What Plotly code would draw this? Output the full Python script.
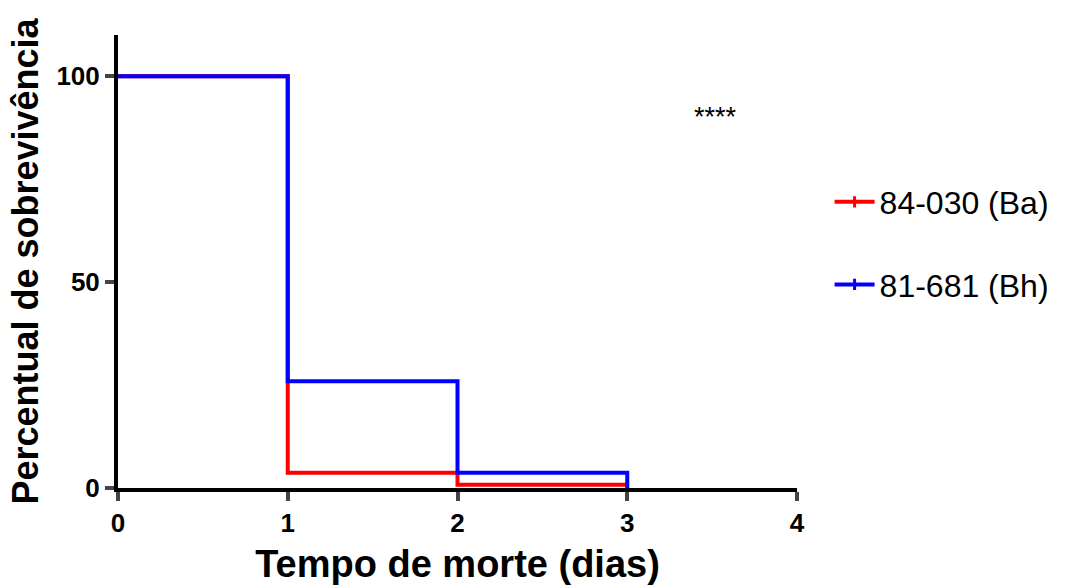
import plotly.graph_objects as go

# Kaplan-Meier survival steps (percent surviving at each day)
days = [0, 1, 2, 3]
surv_ba = [100, 3.7, 0.8, 0.8]
surv_bh = [100, 25.9, 3.7, 0]
series_names = ["84-030 (Ba)", "81-681 (Bh)"]
series_colors = ["#ff0000", "#0000ff"]
x_ticks = [0, 1, 2, 3, 4]
y_ticks = [0, 50, 100]
signif_label = "****"

fig = go.Figure()
for i, (name, ys) in enumerate(zip(series_names, [surv_ba, surv_bh])):
    fig.add_trace(go.Scatter(
        x=days, y=ys, mode="lines", line=dict(color=series_colors[i], width=4, shape="hv"),
        showlegend=False, cliponaxis=False, hoverinfo="skip"))

# legend entries with a small censor tick
for i, name in enumerate(series_names):
    fig.add_trace(go.Scatter(
        x=[None], y=[None], mode="lines+markers", name=name, legendgroup=name,
        line=dict(color=series_colors[i], width=4),
        marker=dict(symbol="line-ns", size=8, line=dict(color=series_colors[i], width=3))))

fig.add_annotation(x=3.52, y=90, text=signif_label, showarrow=False,
                   font=dict(family="Liberation Sans, Arial", size=27, color="black"))

bold_font = "Liberation Sans, Arial"
fig.update_layout(
    width=1070, height=586,
    margin=dict(l=118, r=273, t=35, b=98),
    paper_bgcolor="white", plot_bgcolor="white",
    font=dict(family=bold_font, color="black"),
    legend=dict(x=1.048, y=0.692, xanchor="left", yanchor="top",
                font=dict(size=32, family=bold_font), tracegroupgap=38,
                itemwidth=40),
    xaxis=dict(range=[0, 4], tickvals=x_ticks, ticks="outside", ticklen=9, tickwidth=4,
               showline=True, linewidth=4, linecolor="black", showgrid=False, zeroline=False,
               automargin=False,
               tickfont=dict(size=26, family=bold_font, weight="bold"),
               title=dict(text="Tempo de morte (dias)", standoff=14,
                          font=dict(size=38, family=bold_font, weight="bold"))),
    yaxis=dict(range=[0, 110], tickvals=y_ticks, ticks="outside", ticklen=9, tickwidth=4,
               showline=True, linewidth=4, linecolor="black", showgrid=False, zeroline=False,
               automargin=False,
               tickfont=dict(size=26, family=bold_font, weight="bold"),
               title=dict(text="Percentual de sobrevivência", standoff=8,
                          font=dict(size=36, family=bold_font, weight="bold"))),
)

fig.write_html("out.html")
